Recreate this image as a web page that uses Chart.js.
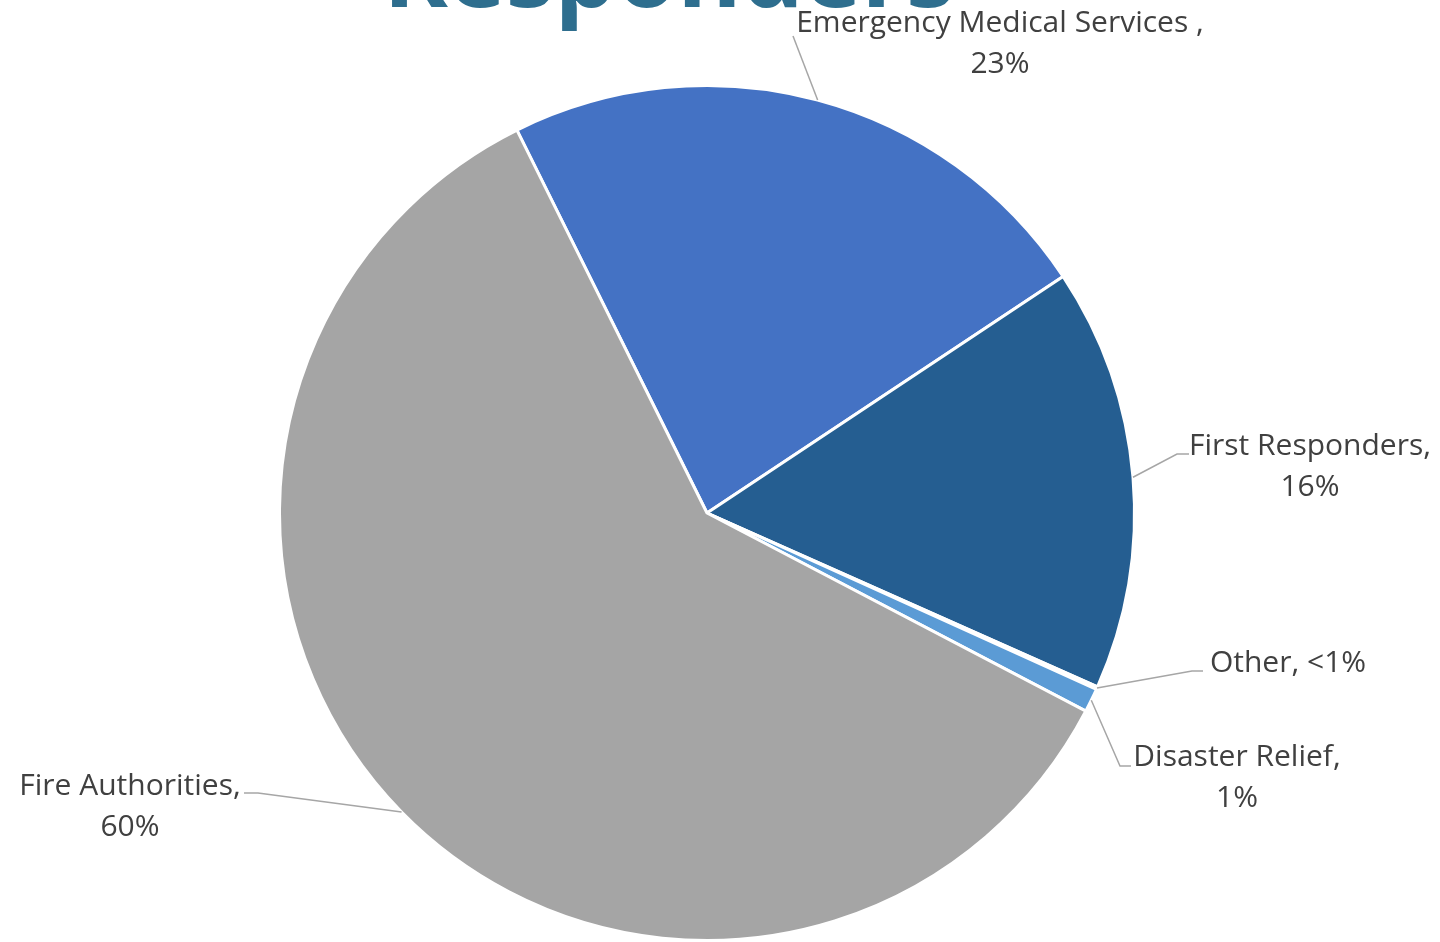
<!DOCTYPE html>
<html>
<head>
<meta charset="utf-8">
<title>Responders</title>
<script src="https://cdn.jsdelivr.net/npm/chart.js@4.4.0/dist/chart.umd.min.js"></script>
<style>
    html, body { margin: 0; padding: 0; background: #fff; overflow: hidden; }
    #wrap { width: 1440px; height: 942px; position: relative; }
</style>
</head>
<body>
<div id="wrap"><canvas id="pie"></canvas></div>
<script>
// Dados do gráfico
const categories = ['Emergency Medical Services ', 'First Responders', 'Other', 'Disaster Relief', 'Fire Authorities'];
const shares = [23, 16, 0.1, 0.9, 60];
const shareLabels = ['23%', '16%', '<1%', '1%', '60%'];
const sliceColors = ['#4472C4', '#255E91', '#ED7D31', '#5B9BD5', '#A5A5A5'];
const chartTitle = 'Responders';

// Posição dos rótulos e das linhas de chamada (apenas layout)
const calloutLayout = [
    { x: 1000, y: 32, lead: [[793, 36]] },
    { x: 1310, y: 455, lead: [[1177, 454], [1189, 454]] },
    { x: 1288, y: 672, oneLine: true, lead: [[1192, 671], [1203, 671]] },
    { x: 1237, y: 766, lead: [[1120, 766], [1131, 766]] },
    { x: 130, y: 795, lead: [[258, 793], [244, 793]] }
];

const calloutPlugin = {
    id: 'callouts',
    afterDraw(chart, args, opts) {
        const ctx = chart.ctx;
        const arcs = chart.getDatasetMeta(0).data;
        ctx.save();

        // título (cortado no topo, como no original)
        ctx.fillStyle = '#2E6E8E';
        ctx.font = 'bold 98px "Open Sans", sans-serif';
        ctx.textAlign = 'center';
        ctx.textBaseline = 'alphabetic';
        ctx.fillText(opts.title, 669, 7);

        ctx.font = '30px "Open Sans", sans-serif';
        ctx.lineWidth = 1.5;
        ctx.strokeStyle = '#A6A6A6';
        ctx.fillStyle = '#404040';

        arcs.forEach((arc, i) => {
            const p = opts.layout[i];
            if (!p) return;
            const mid = (arc.startAngle + arc.endAngle) / 2;
            const sx = arc.x + Math.cos(mid) * arc.outerRadius;
            const sy = arc.y + Math.sin(mid) * arc.outerRadius;
            ctx.beginPath();
            ctx.moveTo(sx, sy);
            p.lead.forEach(([x, y]) => ctx.lineTo(x, y));
            ctx.stroke();

            const lines = p.oneLine
                ? [`${categories[i]}, ${shareLabels[i]}`]
                : [`${categories[i]},`, shareLabels[i]];
            lines.forEach((t, k) => ctx.fillText(t, p.x, p.y + k * 41));
        });
        ctx.restore();
    }
};

new Chart(document.getElementById('pie'), {
    type: 'pie',
    data: {
        labels: categories,
        datasets: [{
            data: shares,
            backgroundColor: sliceColors,
            borderColor: '#FFFFFF',
            borderWidth: 3
        }]
    },
    options: {
        responsive: true,
        maintainAspectRatio: false,
        animation: false,
        rotation: -26.4,
        layout: { padding: { top: 84, bottom: 0, left: 100, right: 126 } },
        plugins: {
            legend: { display: false },
            tooltip: { enabled: false },
            callouts: { title: chartTitle, layout: calloutLayout }
        }
    },
    plugins: [calloutPlugin]
});
</script>
</body>
</html>
